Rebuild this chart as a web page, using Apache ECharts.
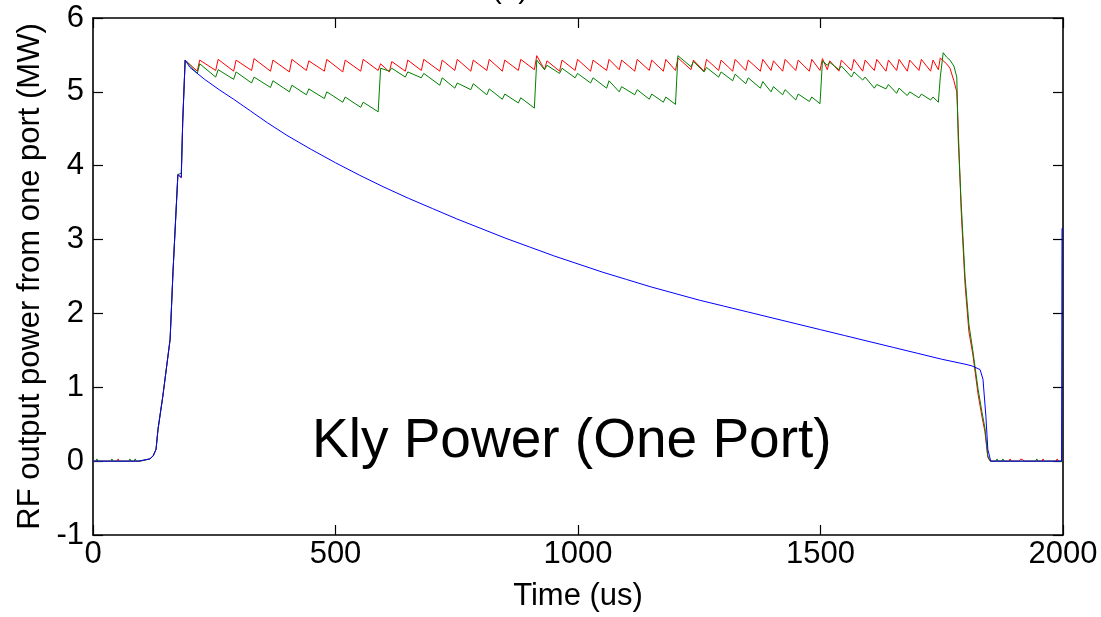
<!DOCTYPE html>
<html>
<head>
<meta charset="utf-8">
<script src="https://cdn.jsdelivr.net/npm/echarts@6/dist/echarts.min.js"></script>
<style>
  html, body { margin: 0; padding: 0; background: #fff; }
  #chart { width: 1101px; height: 617px; }
</style>
</head>
<body>
<div id="chart"></div>
<script>
// time samples (us) shared by the red and green traces
const rgTime = [
  0, 6, 8, 10, 37, 39, 41, 50, 52, 54, 74, 76, 78, 85, 87, 89, 97,
  117, 124, 130, 134, 144, 159, 165, 175, 182, 185, 190,
  215, 220, 253, 258, 290, 295, 327, 332, 366, 371, 405, 410, 440, 445, 477, 482, 515, 520, 552, 557, 588, 593,
  611, 616, 644, 649, 677, 682, 715, 720, 746, 751, 779, 784, 812, 817, 844, 849, 877, 882, 910, 915,
  931, 936, 962, 967, 994, 999, 1026, 1031, 1059, 1064, 1085, 1090, 1117, 1122, 1147, 1152, 1176, 1181, 1201, 1206,
  1233, 1238, 1260, 1265, 1290, 1295, 1319, 1324, 1346, 1351, 1376, 1381, 1398, 1403, 1422, 1427, 1449, 1454, 1477, 1482, 1499, 1504,
  1514, 1519, 1538, 1543, 1564, 1569, 1587, 1592, 1611, 1616, 1635, 1640, 1657, 1662, 1679, 1684, 1703, 1708, 1727, 1732, 1743,
  1747, 1753, 1760, 1767, 1775, 1781, 1784, 1790, 1798, 1806, 1814, 1825, 1833, 1839, 1845, 1850,
  1862, 1864, 1866, 1874, 1876, 1878, 1889, 1891, 1893, 1909, 1913, 1917, 1921, 1944, 1946, 1948, 1957, 1959, 1961, 1986, 1988, 1990, 2000
];

const redMW = [
  0, 0, 0, 0, 0, 0, 0, 0, 0.03, 0, 0, 0, 0, 0, 0.02, 0, 0,
  0.03, 0.07, 0.16, 0.43, 0.88, 1.65, 2.57, 3.88, 3.84, 4.6, 5.43,
  5.28, 5.43, 5.29, 5.44, 5.28, 5.43, 5.29, 5.45, 5.28, 5.43, 5.27, 5.44, 5.29, 5.42, 5.28, 5.44, 5.27, 5.43, 5.28, 5.44, 5.29, 5.38,
  5.27, 5.41, 5.28, 5.43, 5.29, 5.44, 5.28, 5.43, 5.29, 5.44, 5.28, 5.43, 5.29, 5.44, 5.28, 5.43, 5.29, 5.44, 5.30, 5.49,
  5.30, 5.42, 5.28, 5.43, 5.29, 5.44, 5.28, 5.43, 5.29, 5.44, 5.30, 5.43, 5.28, 5.44, 5.29, 5.43, 5.28, 5.44, 5.29, 5.46,
  5.30, 5.43, 5.28, 5.44, 5.29, 5.43, 5.28, 5.44, 5.29, 5.43, 5.28, 5.44, 5.29, 5.42, 5.28, 5.44, 5.29, 5.43, 5.28, 5.44, 5.29, 5.45,
  5.30, 5.42, 5.28, 5.43, 5.29, 5.44, 5.28, 5.43, 5.29, 5.44, 5.28, 5.43, 5.29, 5.44, 5.28, 5.43, 5.29, 5.44, 5.28, 5.43, 5.30,
  5.46, 5.42, 5.38, 5.32, 5.15, 5.0, 4.5, 3.4, 2.4, 1.75, 1.45, 0.9, 0.6, 0.4, 0.05, 0,
  0, 0, 0, 0, 0, 0, 0, 0.03, 0, 0, 0.03, 0.03, 0, 0, 0, 0, 0, 0.03, 0, 0, 0.03, 0, 0
];

const greenMW = [
  0, 0, 0.03, 0, 0, 0.03, 0, 0, 0, 0, 0, 0.03, 0, 0, 0.03, 0, 0,
  0.03, 0.07, 0.16, 0.43, 0.88, 1.65, 2.57, 3.88, 3.9, 4.6, 5.43,
  5.25, 5.38, 5.20, 5.30, 5.17, 5.27, 5.12, 5.20, 5.06, 5.15, 5.00, 5.09, 4.96, 5.04, 4.91, 5.00, 4.86, 4.93, 4.79, 4.86, 4.73, 5.32,
  5.28, 5.32, 5.20, 5.27, 5.19, 5.25, 5.09, 5.19, 5.05, 5.12, 5.03, 5.11, 4.96, 5.04, 4.90, 4.97, 4.85, 4.92, 4.78, 5.43,
  5.30, 5.36, 5.25, 5.32, 5.19, 5.25, 5.12, 5.19, 5.05, 5.15, 5.00, 5.07, 4.96, 5.03, 4.90, 4.97, 4.86, 4.93, 4.83, 5.49,
  5.34, 5.41, 5.27, 5.33, 5.20, 5.27, 5.15, 5.24, 5.11, 5.19, 5.05, 5.14, 5.00, 5.07, 4.96, 5.03, 4.89, 4.97, 4.87, 4.93, 4.84, 5.42,
  5.36, 5.40, 5.30, 5.35, 5.20, 5.27, 5.16, 5.20, 5.05, 5.10, 5.04, 5.10, 4.98, 5.05, 4.95, 5.00, 4.92, 4.97, 4.89, 4.93, 4.86,
  5.20, 5.53, 5.47, 5.43, 5.35, 5.20, 4.35, 3.5, 2.5, 1.85, 1.5, 0.97, 0.66, 0.45, 0.07, 0,
  0, 0.03, 0, 0, 0.03, 0, 0, 0, 0, 0, 0, 0, 0, 0, 0.03, 0, 0, 0, 0, 0, 0.02, 0, 0
];

// blue trace
const blueTime = [
  0, 93, 117, 124, 130, 134, 144, 159, 165, 175, 182, 185, 190,
  200, 230, 260, 290, 325, 360, 400, 450, 500, 550, 600, 650, 700, 750, 800, 850, 900, 950,
  1000, 1050, 1100, 1150, 1200, 1250, 1300, 1350, 1400, 1450, 1500, 1550, 1600, 1650, 1700, 1750, 1800,
  1812, 1829, 1835, 1841, 1845, 1851, 1997, 1998, 2000
];
const blueMW = [
  0, 0, 0.03, 0.07, 0.16, 0.43, 0.88, 1.65, 2.57, 3.88, 3.84, 4.6, 5.43,
  5.33, 5.17, 5.03, 4.90, 4.74, 4.58, 4.41, 4.22, 4.04, 3.87, 3.71, 3.56, 3.42, 3.28, 3.15, 3.02, 2.90, 2.78,
  2.67, 2.56, 2.46, 2.36, 2.27, 2.18, 2.10, 2.02, 1.94, 1.86, 1.78, 1.70, 1.62, 1.54, 1.46, 1.38, 1.31,
  1.29, 1.24, 1.11, 0.61, 0.16, 0, 0, 3.15, 3.15
];

const xTicks = { min: 0, max: 2000, interval: 500 };
const yTicks = { min: -1, max: 6, interval: 1 };

const zip = (xs, ys) => xs.map((x, i) => [x, ys[i]]);

const chart = echarts.init(document.getElementById('chart'));

const fontFam = '"Liberation Sans", Arial, Helvetica, sans-serif';
const axisLine = { show: true, onZero: false, lineStyle: { color: '#000', width: 1.6 } };
const tick = { show: true, inside: true, length: 10, lineStyle: { color: '#000', width: 1.2 } };

const option = {
  animation: false,
  backgroundColor: '#fff',
  textStyle: { fontFamily: fontFam },
  grid: { left: 93, right: 38, top: 18, bottom: 81, containLabel: false },
  graphic: [
    {
      type: 'text',
      left: 312,
      top: 414,
      style: { text: 'Kly Power (One Port)', font: '55px ' + fontFam, fill: '#000' }
    },
    {
      type: 'text',
      x: 510,
      y: 5,
      style: { text: '(a)', font: '30px ' + fontFam, fill: '#000', align: 'center', verticalAlign: 'bottom' }
    }
  ],
  xAxis: [
    {
      type: 'value',
      min: xTicks.min, max: xTicks.max, interval: xTicks.interval,
      position: 'bottom',
      name: 'Time (us)',
      nameLocation: 'middle',
      nameGap: 46,
      nameTextStyle: { fontSize: 31, color: '#000', fontFamily: fontFam },
      axisLine, axisTick: tick,
      axisLabel: { fontSize: 31, color: '#000', margin: 4, fontFamily: fontFam, formatter: v => String(v) },
      splitLine: { show: false }
    },
    {
      type: 'value',
      min: xTicks.min, max: xTicks.max, interval: xTicks.interval,
      position: 'top',
      axisLine, axisTick: tick,
      axisLabel: { show: false },
      splitLine: { show: false }
    }
  ],
  yAxis: [
    {
      type: 'value',
      min: yTicks.min, max: yTicks.max, interval: yTicks.interval,
      position: 'left',
      name: 'RF output power from one port (MW)',
      nameLocation: 'middle',
      nameGap: 44,
      nameRotate: 90,
      nameTextStyle: { fontSize: 31, color: '#000', fontFamily: fontFam },
      axisLine, axisTick: tick,
      axisLabel: { fontSize: 31, color: '#000', margin: 9, fontFamily: fontFam },
      splitLine: { show: false }
    },
    {
      type: 'value',
      min: yTicks.min, max: yTicks.max, interval: yTicks.interval,
      position: 'right',
      axisLine, axisTick: tick,
      axisLabel: { show: false },
      splitLine: { show: false }
    }
  ],
  series: [
    {
      name: 'red', type: 'line', data: zip(rgTime, redMW),
      symbol: 'none', lineStyle: { color: '#ff0000', width: 1 }
    },
    {
      name: 'green', type: 'line', data: zip(rgTime, greenMW),
      symbol: 'none', lineStyle: { color: '#008000', width: 1 }
    },
    {
      name: 'blue', type: 'line', data: zip(blueTime, blueMW),
      symbol: 'none', lineStyle: { color: '#0000ff', width: 1 }
    }
  ]
};

chart.setOption(option);
</script>
</body>
</html>
